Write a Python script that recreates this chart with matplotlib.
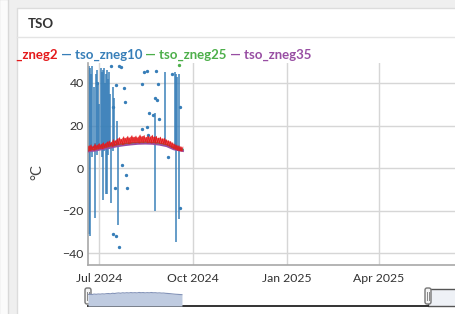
#!/usr/bin/env python3
"""TSO soil temperature panel, redrawn as a dashboard card."""

import matplotlib
matplotlib.use("Agg")
import matplotlib.dates as mdates
import matplotlib.pyplot as plt
import numpy as np
import pandas as pd
from matplotlib.patches import FancyBboxPatch, Rectangle

W, H = 456, 314

series_names = ["tso_zneg2", "tso_zneg10", "tso_zneg25", "tso_zneg35"]
series_colors = ["#e41a1c", "#377eb8", "#4daf4a", "#984ea3"]

# tso_zneg2: high/low envelope, one pair every 2 days from 2024-06-20
red_start = "2024-06-20"
red_hi = [10.5, 11.0, 10.2, 11.4, 10.8, 11.6, 11.2, 12.0, 11.5, 12.4,
          12.8, 12.1, 13.5, 12.9, 13.8, 14.4, 13.6, 14.8, 14.1, 15.0,
          14.3, 15.3, 14.6, 15.1, 14.4, 15.6, 14.9, 15.4, 14.5, 15.2,
          14.7, 15.5, 14.8, 15.0, 14.2, 14.6, 13.9, 14.1, 13.4, 13.0,
          12.6, 12.0, 11.4, 10.9, 10.6, 10.2, 9.9]
red_lo = [8.0, 8.3, 8.6, 8.4, 8.9, 9.0, 9.3, 9.1, 9.6, 9.8,
          10.1, 10.4, 10.2, 10.6, 10.9, 11.1, 11.3, 11.0, 11.5, 11.7,
          11.4, 11.8, 12.0, 11.9, 12.1, 11.8, 12.2, 12.0, 12.3, 11.9,
          12.1, 11.8, 12.0, 11.7, 11.9, 11.6, 11.5, 11.2, 11.0, 10.6,
          10.2, 9.6, 9.1, 8.7, 8.3, 8.1, 8.0]

# tso_zneg25 / tso_zneg35: weekly readings
slow_dates = ["2024-06-20", "2024-06-27", "2024-07-04", "2024-07-11",
              "2024-07-18", "2024-07-25", "2024-08-01", "2024-08-08",
              "2024-08-15", "2024-08-22", "2024-08-29", "2024-09-05",
              "2024-09-12", "2024-09-21"]
green_vals = [8.2, 8.7, 9.3, 10.0, 10.7, 11.2, 11.6, 11.9, 12.0, 11.9,
              11.5, 10.8, 9.3, 8.5]
purple_vals = [7.8, 8.2, 8.9, 9.5, 10.2, 10.7, 11.1, 11.4, 11.5, 11.4,
               11.0, 10.3, 8.8, 8.0]

# tso_zneg10: baseline plus spikes (low end, high end)
blue_base = [9.5, 9.8, 10.0, 10.6, 11.0, 11.4, 11.8, 12.0, 12.1, 12.0,
             11.6, 11.0, 9.6, 8.8]
spike_dates = ["2024-06-20", "2024-06-21", "2024-06-22", "2024-06-23",
               "2024-06-24", "2024-06-26", "2024-06-27", "2024-06-28",
               "2024-06-29", "2024-06-30", "2024-07-01", "2024-07-03",
               "2024-07-04", "2024-07-05", "2024-07-06", "2024-07-07",
               "2024-07-08", "2024-07-09", "2024-07-10", "2024-07-11",
               "2024-07-12", "2024-07-13", "2024-07-14", "2024-07-15",
               "2024-07-18", "2024-07-19", "2024-08-25", "2024-09-03",
               "2024-09-13", "2024-09-14", "2024-09-15", "2024-09-17"]
spike_lo = [10, -31, -32, 8, 5, 10, -23.5, 9, 6, 10, 9, 10, 5, -15, 8, 10,
            -12, -12, 6, 9, 10, -16.5, 8, 10, 10, -27, -20, 12, 10, -35, 8, -24]
spike_hi = [46, 48, 47, 44, 48, 38, 12, 44, 46, 40, 30, 47, 45, 46, 47, 40,
            44, 46, 42, 45, 35, 12, 38, 33, 22, 12, 26, 45, 45, 44, 43, 44]

dot_dates = ["2024-07-13", "2024-07-20", "2024-07-17", "2024-07-25",
             "2024-07-26", "2024-08-17", "2024-08-26", "2024-08-12",
             "2024-08-28", "2024-08-25", "2024-08-27", "2024-08-19",
             "2024-08-23", "2024-08-29", "2024-08-12", "2024-08-17",
             "2024-07-14", "2024-07-23", "2024-07-27", "2024-07-28",
             "2024-07-16", "2024-07-14", "2024-07-17", "2024-07-20",
             "2024-09-06", "2024-09-10", "2024-09-18", "2024-07-22",
             "2024-06-29", "2024-08-14", "2024-08-18", "2024-09-18"]
dot_vals = [48, 48, 39, 37.6, 31, 45.6, 45.6, 39.5,
            39.5, 33, 32, 26, 25, 23, 18.4, 19.3,
            28.7, 1.4, -3.3, -9.4, -9.4, -31, -32, -37,
            5.2, 44, -19, 47.5, 40, 45, 15.5, 28.7]
green_dot_dates = ["2024-09-17"]
green_dot_vals = [48.5]

x_start, x_end = "2024-06-20", "2025-06-29"
y_min, y_max = -45.6, 49.4
y_ticks = [-40, -20, 0, 20, 40]


def px_axes(fig, x0, y0, x1, y1):
    return fig.add_axes([x0 / W, 1 - y1 / H, (x1 - x0) / W, (y1 - y0) / H])


def main():
    plt.rcParams["font.family"] = ["Lato", "DejaVu Sans"]
    fig = plt.figure(figsize=(W / 100, H / 100), dpi=100)

    # page + card background, pixel coordinates
    bg = fig.add_axes([0, 0, 1, 1])
    bg.set_xlim(0, W)
    bg.set_ylim(H, 0)
    bg.axis("off")
    bg.add_patch(Rectangle((0, 0), W, H, fc="#efefef", ec="none", zorder=0))
    bg.add_patch(Rectangle((17, 8), W, H, fc="white", ec="#dcdcdc", lw=1, zorder=1))
    bg.plot([17, W], [37, 37], color="#e4e4e4", lw=1, zorder=2)
    bg.text(28, 24, "TSO", fontsize=9.5, fontweight="bold", color="#333333",
            va="center", ha="left", zorder=3)
    bg.text(37, 172, "°C", fontsize=10.5, rotation=90, color="#444444",
            va="center", ha="center", zorder=3)

    # legend line, chained left to right
    t = bg.text(58, 55, "— " + series_names[0], color=series_colors[0], fontsize=9.5,
                fontweight="bold", ha="right", va="center", zorder=3)
    for name, col in zip(series_names[1:], series_colors[1:]):
        t = bg.annotate(" — " + name, xy=(1, 0), xycoords=t, color=col, fontsize=9.5,
                        fontweight="bold", ha="left", va="bottom", zorder=3)
    # grey margin drawn over the clipped legend start
    bg.add_patch(Rectangle((0, 0), 16.5, H, fc="#efefef", ec="none", zorder=8))
    bg.add_patch(Rectangle((-1, -1), 9, H + 2, fc="#fbfbfb", ec="#d8d8d8", lw=1, zorder=9))

    # main plot
    ax = px_axes(fig, 88, 63, 470, 265)
    ax.patch.set_alpha(0)
    x0, x1 = pd.Timestamp(x_start), pd.Timestamp(x_end)
    ax.set_xlim(x0, x1)
    ax.set_ylim(y_min, y_max)

    red_dates = pd.date_range(red_start, periods=len(red_hi), freq="2D")
    rx = np.empty(2 * len(red_dates), dtype="datetime64[ns]")
    rx[0::2] = red_dates.values
    rx[1::2] = (red_dates + pd.Timedelta(days=1)).values
    ry = np.empty(2 * len(red_hi))
    ry[0::2] = red_lo
    ry[1::2] = red_hi

    sd = pd.to_datetime(slow_dates)
    ax.plot(sd, blue_base, color=series_colors[1], lw=1.1, zorder=2)
    ax.vlines(pd.to_datetime(spike_dates), spike_lo, spike_hi, color=series_colors[1],
              lw=1.2, alpha=0.9, zorder=2)
    ax.plot(pd.to_datetime(dot_dates), dot_vals, ls="none", marker="o", ms=1.4,
            color=series_colors[1], zorder=2)
    ax.plot(sd, green_vals, color=series_colors[2], lw=1.1, zorder=3)
    ax.plot(pd.to_datetime(green_dot_dates), green_dot_vals, ls="none", marker="o",
            ms=1.4, color=series_colors[2], zorder=3)
    ax.plot(sd, purple_vals, color=series_colors[3], lw=1.4, zorder=4)
    ax.fill_between(red_dates, red_lo, red_hi, color=series_colors[0], alpha=0.75,
                    lw=0, zorder=5)
    ax.plot(rx, ry, color=series_colors[0], lw=0.45, zorder=5)

    ax.set_yticks(y_ticks)
    ax.xaxis.set_major_locator(mdates.MonthLocator(bymonth=[1, 4, 7, 10]))
    ax.xaxis.set_major_formatter(mdates.DateFormatter("%b %Y"))
    ax.grid(True, color="#d6d6d6", lw=1)
    ax.set_axisbelow(True)
    ax.tick_params(length=0, labelsize=8.8, colors="#333333")
    ax.tick_params(axis="x", pad=6)
    ax.tick_params(axis="y", pad=3)
    for side in ("top", "right"):
        ax.spines[side].set_visible(False)
    for side in ("left", "bottom"):
        ax.spines[side].set_color("#a8a8a8")
        ax.spines[side].set_linewidth(1.2)

    # range selector mini plot
    mini = px_axes(fig, 88, 287, 470, 306)
    mini.set_xlim(x0, x1)
    mini.set_ylim(-20, 30)
    mini.axis("off")
    mini.fill_between(red_dates, -20, red_hi, color="#bfcbe0", lw=0)
    mini.plot(red_dates, red_hi, color="#8393b8", lw=0.8)

    bg.add_patch(Rectangle((428, 289), 40, 17, fc="#eef1f6", ec="#555555", lw=1, zorder=4))
    bg.plot([88, 428], [306, 306], color="#333333", lw=1.4, zorder=5)
    for hx in (88, 428):
        bg.add_patch(FancyBboxPatch((hx - 3, 288), 6, 16,
                                    boxstyle="round,pad=0,rounding_size=2",
                                    fc="#f4f4f4", ec="#777777", lw=1, zorder=6))
        bg.plot([hx - 1, hx - 1], [292, 300], color="#888888", lw=0.7, zorder=7)
        bg.plot([hx + 1, hx + 1], [292, 300], color="#888888", lw=0.7, zorder=7)

    fig.savefig("out.png", dpi=100)
    plt.close(fig)


if __name__ == "__main__":
    main()
